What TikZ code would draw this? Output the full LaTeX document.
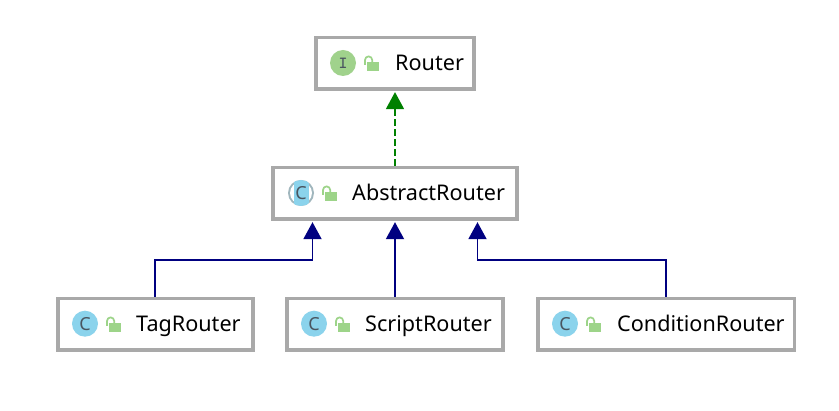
\documentclass[tikz,border=0pt]{standalone}
\usepackage{fontspec}
\setmainfont{Noto Sans}
\usetikzlibrary{arrows.meta,calc}
\definecolor{boxgray}{HTML}{A9A9A9}
\definecolor{iconblue}{HTML}{8BD3EC}
\definecolor{icongreen}{HTML}{A0D28C}
\definecolor{lockgreen}{HTML}{9DD489}
\definecolor{letter}{HTML}{4A5560}
\definecolor{navy2}{HTML}{000080}
\definecolor{green2}{HTML}{008000}
\tikzset{
  umlbox/.style={draw=boxgray,line width=3.7pt,fill=white,inner sep=0pt,minimum height=51.5pt},
  lbl/.style={anchor=base west,inner sep=0pt,font=\fontsize{21.6}{24}\selectfont,text=black},
  badge/.style={circle,inner sep=0pt,minimum size=26pt,fill=#1},
  letterfont/.style={font=\fontsize{18}{20}\selectfont,text=letter},
  inherit/.style={draw=navy2,line width=1.9pt,-{Triangle[length=17pt,width=18pt,fill=navy2]}},
  realize/.style={draw=green2,line width=1.4pt,dash pattern=on 7pt off 3pt,-{Triangle[length=17pt,width=18pt,fill=green2]}},
  pics/lock/.style={code={
    \fill[lockgreen] (3,-1) rectangle (15,8);
    \draw[lockgreen,line width=1.7pt] (1,2) -- (1,-3) arc[start angle=180,end angle=360,radius=3.6] -- (8.2,-1);
  }}
}
\begin{document}
\begin{tikzpicture}[x=1pt,y=-1pt]
\useasboundingbox (0,0) rectangle (839,411);
\fill[white] (0,0) rectangle (839,411);
% boxes
\node[umlbox,minimum width=158pt] (router) at (395,63.2) {};
\node[umlbox,minimum width=244.3pt] (abs) at (395,193.3) {};
\node[umlbox,minimum width=195pt] (tag) at (155.4,324.2) {};
\node[umlbox,minimum width=216.5pt] (script) at (395,324.2) {};
\node[umlbox,minimum width=256.3pt] (cond) at (666.2,324.2) {};
% anchors on the AbstractRouter box for the arrows
\coordinate (absL) at ($(abs.south)+(-82.5,1.3)$);
\coordinate (absM) at ($(abs.south)+(0,1.3)$);
\coordinate (absR) at ($(abs.south)+(82.5,1.3)$);
\coordinate (routerIn) at ($(router.south)+(0,1.3)$);
% connectors
\draw[realize] (abs.north) -- (routerIn);
\draw[inherit] (tag.north) -- ++(0,-37) -| (absL);
\draw[inherit] (script.north) -- (absM);
\draw[inherit] (cond.north) -- ++(0,-37) -| (absR);
% icons
\node[badge=icongreen] (iR) at (343,63) {};
\node[font=\fontsize{17}{18}\ttfamily\bfseries,text=letter] (iRt) at (343,63) {I};
\pic at (364,63) {lock};
\node[lbl] (tR) at (395,71) {Router};
% abstract icon
\node[badge=boxgray!70!iconblue] (iA) at (301,193) {};
\node[circle,fill=white,inner sep=0pt,minimum size=22pt] (iA2) at (301,193) {};
\begin{scope}
\clip (301,193) circle[radius=13];
\fill[iconblue] (293.5,180) rectangle (309,206);
\end{scope}
\node[letterfont] (iAt) at (301,193) {C};
\pic at (322,193) {lock};
\node[lbl] (tA) at (352,201) {AbstractRouter};
% tag
\node[badge=iconblue] (iT) at (85,323.7) {};
\node[letterfont] (iTt) at (85,323.7) {C};
\pic at (106,324) {lock};
\node[lbl] (tT) at (136,332) {TagRouter};
% script
\node[badge=iconblue] (iS) at (314,323.7) {};
\node[letterfont] (iSt) at (314,323.7) {C};
\pic at (335,324) {lock};
\node[lbl] (tS) at (365,332) {ScriptRouter};
% condition
\node[badge=iconblue] (iC) at (565,323.7) {};
\node[letterfont] (iCt) at (565,323.7) {C};
\pic at (586,324) {lock};
\node[lbl] (tC) at (617,332) {ConditionRouter};
\end{tikzpicture}
\end{document}
